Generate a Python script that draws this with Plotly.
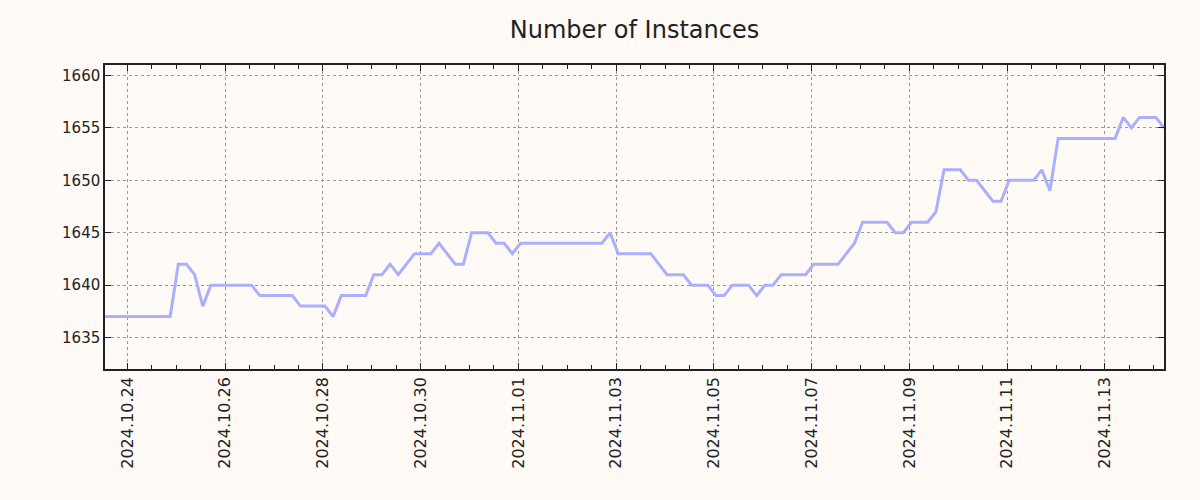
import pandas as pd
import plotly.graph_objects as go

start_time = "2024-10-23 13:00"
interval = "4h"
instances = [
    1637, 1637, 1637, 1637, 1637, 1637, 1637, 1637, 1637,
    1642, 1642, 1641, 1638,
    1640, 1640, 1640, 1640, 1640, 1640,
    1639, 1639, 1639, 1639, 1639,
    1638, 1638, 1638, 1638,
    1637,
    1639, 1639, 1639, 1639,
    1641, 1641, 1642, 1641, 1642,
    1643, 1643, 1643,
    1644, 1643, 1642, 1642,
    1645, 1645, 1645,
    1644, 1644, 1643,
    1644, 1644, 1644, 1644, 1644, 1644, 1644, 1644, 1644, 1644, 1644,
    1645,
    1643, 1643, 1643, 1643, 1643,
    1642,
    1641, 1641, 1641,
    1640, 1640, 1640,
    1639, 1639,
    1640, 1640, 1640,
    1639,
    1640, 1640,
    1641, 1641, 1641, 1641,
    1642, 1642, 1642, 1642,
    1643, 1644,
    1646, 1646, 1646, 1646,
    1645, 1645,
    1646, 1646, 1646,
    1647,
    1651, 1651, 1651,
    1650, 1650,
    1649,
    1648, 1648,
    1650, 1650, 1650, 1650,
    1651, 1649,
    1654, 1654, 1654, 1654, 1654, 1654, 1654, 1654,
    1656, 1655,
    1656, 1656, 1656,
    1655,
]
times = pd.date_range(start=start_time, periods=len(instances), freq=interval)

title_text = "Number of Instances"
y_ticks = [1635, 1640, 1645, 1650, 1655, 1660]

bg = "#fffaf5"
font_family = "DejaVu Sans"

fig = go.Figure()
fig.add_trace(go.Scatter(
    x=times, y=instances, mode="lines",
    line=dict(color="#aab0ff", width=3),
    hoverinfo="x+y",
))

fig.update_layout(
    width=1200, height=500,
    margin=dict(l=105, r=36, t=65, b=131),
    paper_bgcolor=bg, plot_bgcolor=bg,
    showlegend=False,
    font=dict(family=font_family, size=15, color="#222222"),
    title=dict(text=title_text, xref="paper", x=0.5, xanchor="center", y=0.94, yanchor="middle",
               font=dict(family=font_family, size=24, color="#222222")),
)

fig.update_xaxes(
    type="date",
    range=[times[0], times[-1]],
    tickformat="%Y.%m.%d",
    dtick=2 * 86400000,
    tick0="2024-10-24",
    tickangle=-90,
    ticks="inside", ticklen=6, tickcolor="#222222", tickwidth=1,
    showline=True, linecolor="#222222", linewidth=1.5, mirror="ticks",
    showgrid=True, gridcolor="#999999", griddash="dot", gridwidth=1,
    zeroline=False,
    minor=dict(dtick=43200000, tick0="2024-10-24", ticks="inside", ticklen=4,
               tickcolor="#222222", showgrid=False),
    tickfont=dict(family=font_family, size=16, color="#222222"),
)
fig.update_yaxes(
    range=[1632, 1661],
    tickvals=y_ticks,
    ticks="inside", ticklen=6, tickcolor="#222222", tickwidth=1,
    showline=True, linecolor="#222222", linewidth=1.5, mirror="ticks",
    showgrid=True, gridcolor="#999999", griddash="dot", gridwidth=1,
    zeroline=False,
    tickfont=dict(family=font_family, size=15, color="#222222"),
)

fig.write_html("out.html")
